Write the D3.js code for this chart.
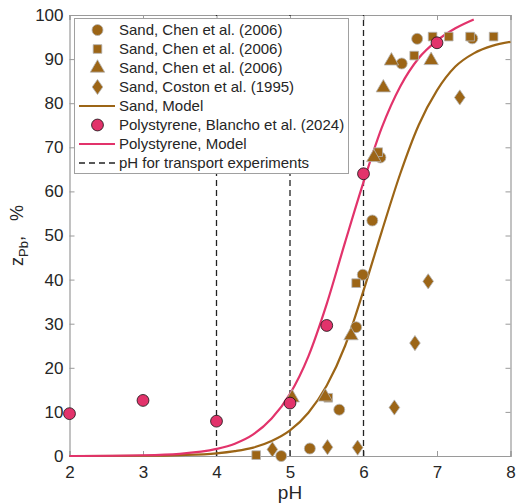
<!DOCTYPE html>
<html>
<head>
<meta charset="utf-8">
<script src="https://cdn.jsdelivr.net/npm/d3@7"></script>
<style>
  body { margin: 0; background: #fff; }
  text { font-family: "Liberation Sans", Arial, sans-serif; fill: #262626; }
</style>
</head>
<body>
<svg id="chart" width="517" height="504"></svg>
<script>
// sand data, Chen et al. (2006), three sets (circle, square, triangle)
const chenCircle = [[4.88,0],[5.27,1.7],[5.67,10.5],[5.90,29.2],[5.99,41.1],[6.12,53.4],[6.23,67.7],[6.52,89.0],[6.73,94.6],[7.48,94.7]];
const chenSquare = [[4.54,0.2],[5.52,13.2],[5.90,39.2],[6.20,68.9],[6.69,90.8],[6.94,95.1],[7.16,95.1],[7.45,95.1],[7.77,95.1]];
const chenTriangle = [[5.03,13.2],[5.48,13.4],[5.83,27.3],[6.14,67.7],[6.27,83.5],[6.38,89.6],[6.92,89.7]];
// sand data, Coston et al. (1995)
const coston = [[4.76,1.5],[5.51,2.0],[5.92,1.9],[6.42,11.0],[6.70,25.6],[6.88,39.6],[7.31,81.3]];
// polystyrene data, Blancho et al. (2024)
const blancho = [[2,9.6],[3,12.6],[4,7.9],[5,12.0],[5.5,29.6],[6,64.0],[7,93.7]];

// model curves
const sandModel = [[2,0],[3,0.06],[3.5,0.2],[4,0.6],[4.25,1.1],[4.5,1.9],[4.75,3.4],[5,5.8],[5.25,9.8],[5.5,16.0],[5.75,25.0],[6,37.5],[6.25,51.0],[6.5,64.0],[6.75,75.0],[7,82.9],[7.25,88.3],[7.5,91.3],[7.75,93.0],[8,93.9]];
const polyModel = [[2,0],[3,0.17],[3.5,0.5],[4,1.6],[4.25,2.8],[4.5,4.9],[4.75,8.5],[5,14.1],[5.25,22.6],[5.5,34.5],[5.75,48.5],[6,62.1],[6.25,74.5],[6.5,83.8],[6.75,90.2],[7,94.2],[7.25,97.0],[7.5,99.0]];

// pH values of transport experiments
const transportPH = [4, 5, 6];

const xTicks = [2,3,4,5,6,7,8];
const yTicks = [0,10,20,30,40,50,60,70,80,90,100];

const brown = '#9c6516';
const pink = '#e2336b';

const svg = d3.select('#chart');
const margin = {t:15, r:6.5, b:48, l:69.5};
const width = 517, height = 504;

const x = d3.scaleLinear().domain([2,8]).range([margin.l, width - margin.r]);
const y = d3.scaleLinear().domain([0,100]).range([height - margin.b, margin.t]);

// axes (ticks inside, box all round)
const axisColor = '#9a9a9a';
const xAxis = svg.append('g').attr('transform', `translate(0,${y(0)})`)
    .call(d3.axisBottom(x).tickValues(xTicks).tickSize(-5).tickPadding(9).tickFormat(d3.format('d')));
const xTop = svg.append('g').attr('transform', `translate(0,${y(100)})`)
    .call(d3.axisTop(x).tickValues(xTicks).tickSize(-5).tickFormat(''));
const yAxis = svg.append('g').attr('transform', `translate(${x(2)},0)`)
    .call(d3.axisLeft(y).tickValues(yTicks).tickSize(-5).tickPadding(6).tickFormat(d3.format('d')));
const yRight = svg.append('g').attr('transform', `translate(${x(8)},0)`)
    .call(d3.axisRight(y).tickValues(yTicks).tickSize(-5).tickFormat(''));

[xAxis, xTop, yAxis, yRight].forEach(g => {
    g.select('.domain').attr('stroke', axisColor).attr('stroke-width', 1.2);
    g.selectAll('.tick line').attr('stroke', axisColor);
    g.selectAll('.tick text').style('font-size', '17px').attr('fill', '#262626');
});
xAxis.selectAll('.tick text').attr('dy', '0.75em');

// dashed transport lines
svg.append('g').selectAll('line')
    .data(transportPH)
    .join('line')
    .attr('x1', d => x(d)).attr('x2', d => x(d))
    .attr('y1', y(0)).attr('y2', y(100))
    .attr('stroke', '#222').attr('stroke-width', 1.3)
    .attr('stroke-dasharray', '6,4');

// model lines
const line = d3.line().x(d => x(d[0])).y(d => y(d[1])).curve(d3.curveMonotoneX);
svg.append('path').datum(sandModel).attr('d', line)
    .attr('fill', 'none').attr('stroke', brown).attr('stroke-width', 2.2);
svg.append('path').datum(polyModel).attr('d', line)
    .attr('fill', 'none').attr('stroke', pink).attr('stroke-width', 2.2);

// markers
const sym = (type, size) => d3.symbol().type(type).size(size);
const diamond = {
    draw(ctx, size) {
        const h = Math.sqrt(size) * 0.85, w = h * 0.7;
        ctx.moveTo(0,-h); ctx.lineTo(w,0); ctx.lineTo(0,h); ctx.lineTo(-w,0); ctx.closePath();
    }
};

function drawSet(data, type, size, fill, stroke) {
    svg.append('g').selectAll('path')
        .data(data)
        .join('path')
        .attr('transform', d => `translate(${x(d[0])},${y(d[1])})`)
        .attr('d', sym(type, size))
        .attr('fill', fill).attr('stroke', stroke).attr('stroke-width', 0.8);
}
drawSet(chenCircle, d3.symbolCircle, 95, brown, '#b5b5b5');
drawSet(chenSquare, d3.symbolSquare, 75, brown, '#b5b5b5');
drawSet(chenTriangle, d3.symbolTriangle, 90, brown, '#b5b5b5');
drawSet(coston, diamond, 80, brown, '#b5b5b5');
drawSet(blancho, d3.symbolCircle, 110, pink, '#111');

// axis labels
svg.append('text').attr('x', x(5)).attr('y', 499)
    .attr('text-anchor', 'middle').style('font-size', '19px').text('pH');

const yl = svg.append('text')
    .attr('transform', `translate(23,${(y(0)+y(100))/2}) rotate(-90)`)
    .attr('text-anchor', 'middle').style('font-size', '18px');
yl.append('tspan').text('z');
yl.append('tspan').attr('dy', 5).style('font-size', '13px').text('Pb');
yl.append('tspan').attr('dy', -5).text(',\u00a0\u00a0\u00a0%');

// legend
const legendItems = [
    {label: 'Sand, Chen et al. (2006)', kind: 'sym', type: d3.symbolCircle, size: 95, fill: brown, stroke: '#b5b5b5'},
    {label: 'Sand, Chen et al. (2006)', kind: 'sym', type: d3.symbolSquare, size: 75, fill: brown, stroke: '#b5b5b5'},
    {label: 'Sand, Chen et al. (2006)', kind: 'sym', type: d3.symbolTriangle, size: 90, fill: brown, stroke: '#b5b5b5'},
    {label: 'Sand, Coston et al. (1995)', kind: 'sym', type: diamond, size: 80, fill: brown, stroke: '#b5b5b5'},
    {label: 'Sand, Model', kind: 'line', color: brown},
    {label: 'Polystyrene, Blancho et al. (2024)', kind: 'sym', type: d3.symbolCircle, size: 110, fill: pink, stroke: '#111'},
    {label: 'Polystyrene, Model', kind: 'line', color: pink},
    {label: 'pH for transport experiments', kind: 'dash', color: '#222'}
];

const legend = svg.append('g');
legend.append('rect').attr('x', 74.5).attr('y', 18.5).attr('width', 274).attr('height', 155)
    .attr('fill', '#fff').attr('stroke', '#a0a0a0').attr('stroke-width', 1);

const rows = legend.selectAll('g.row')
    .data(legendItems)
    .join('g').attr('class', 'row')
    .attr('transform', (d, i) => `translate(0,${30 + i * 19})`);

rows.each(function(d) {
    const g = d3.select(this);
    if (d.kind === 'sym') {
        g.append('path').attr('transform', 'translate(97.5,0)')
            .attr('d', sym(d.type, d.size)).attr('fill', d.fill)
            .attr('stroke', d.stroke).attr('stroke-width', 0.8);
    } else {
        g.append('line').attr('x1', 79).attr('x2', 115).attr('y1', 0).attr('y2', 0)
            .attr('stroke', d.color).attr('stroke-width', d.kind === 'dash' ? 1.3 : 2.2)
            .attr('stroke-dasharray', d.kind === 'dash' ? '6,4' : null);
    }
    g.append('text').attr('x', 119).attr('y', 0).attr('dy', '0.35em')
        .style('font-size', '15px').text(d.label);
});
</script>
</body>
</html>
